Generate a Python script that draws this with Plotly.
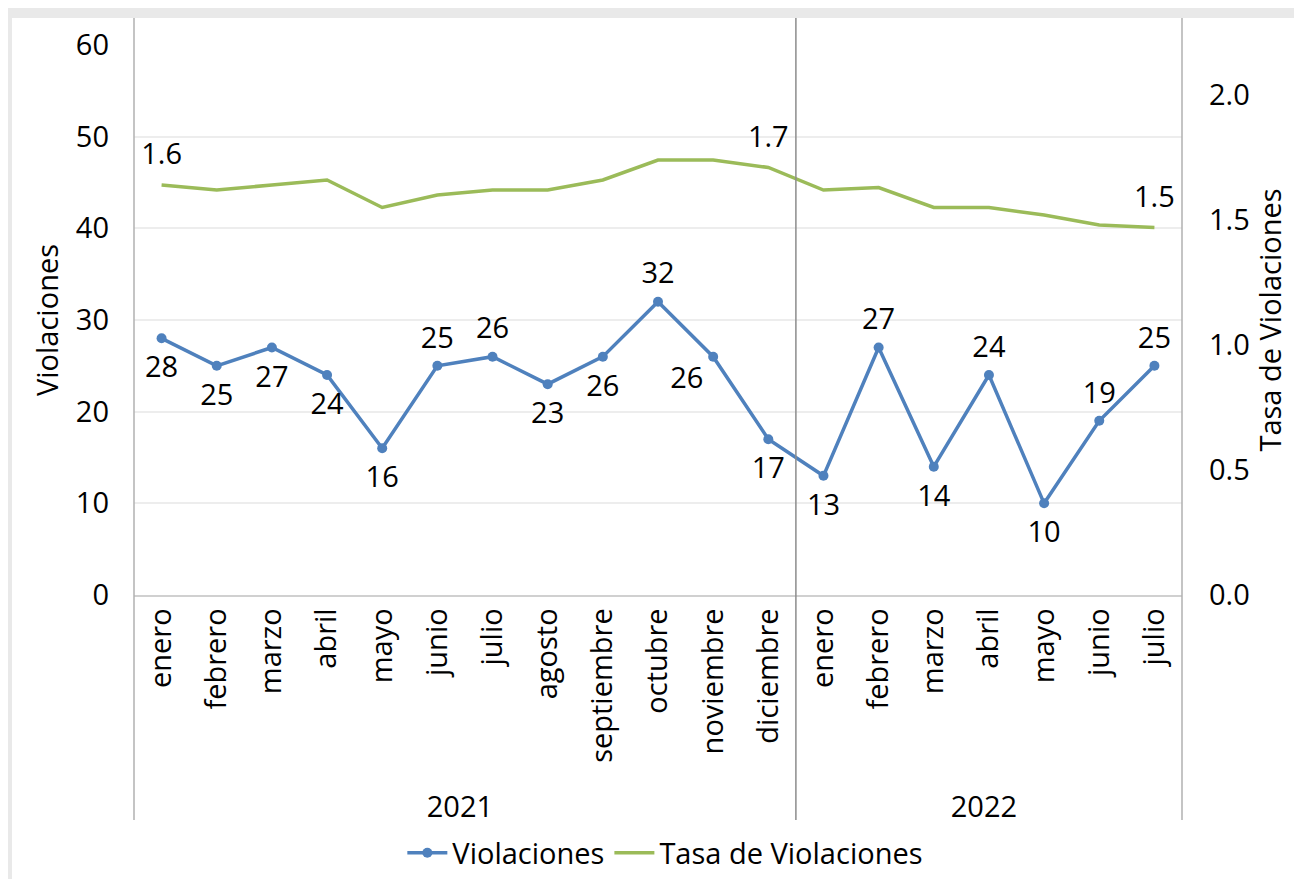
import plotly.graph_objects as go

# Data.
years = ['2021'] * 12 + ['2022'] * 7
months = ['enero', 'febrero', 'marzo', 'abril', 'mayo', 'junio', 'julio', 'agosto',
          'septiembre', 'octubre', 'noviembre', 'diciembre',
          'enero', 'febrero', 'marzo', 'abril', 'mayo', 'junio', 'julio']
violaciones = [28, 25, 27, 24, 16, 25, 26, 23, 26, 32, 26, 17, 13, 27, 14, 24, 10, 19, 25]
tasa = [1.64, 1.62, 1.64, 1.66, 1.55, 1.60, 1.62, 1.62, 1.66, 1.74, 1.74, 1.71,
        1.62, 1.63, 1.55, 1.55, 1.52, 1.48, 1.47]
tasa_labels = ['1.6'] + [''] * 10 + ['1.7'] + [''] * 6 + ['1.5']
viol_pos = ['bottom center', 'bottom center', 'bottom center', 'bottom center', 'bottom center',
            'top center', 'top center', 'bottom center', 'bottom center', 'top center',
            'bottom left', 'bottom center', 'bottom center', 'top center', 'bottom center',
            'top center', 'bottom center', 'top center', 'top center']

blue = '#4f81bd'
green = '#9bbb59'
font_family = 'Open Sans'
fsize = 29
text_font = dict(family=font_family, size=fsize, color='#000000')

x = [years, months]

data = []

# Tasa de Violaciones on the secondary axis.
data.append(
    go.Scatter(
        x=x,
        y=tasa,
        yaxis='y2',
        mode='lines',
        name='Tasa de Violaciones',
        line=dict(color=green, width=3.5),
        hoverinfo='skip',
    )
)

# Tasa labels (invisible markers keep the labels clear of the line).
data.append(
    go.Scatter(
        x=x,
        y=tasa,
        yaxis='y2',
        mode='markers+text',
        showlegend=False,
        marker=dict(size=20, opacity=0),
        text=tasa_labels,
        textposition='top center',
        textfont=text_font,
        cliponaxis=False,
        hoverinfo='skip',
    )
)

# Violaciones on the primary axis.
data.append(
    go.Scatter(
        x=x,
        y=violaciones,
        mode='lines+markers',
        name='Violaciones',
        line=dict(color=blue, width=3.5),
        marker=dict(color=blue, size=10),
    )
)

# Violaciones labels; labels below the line sit a little further away.
label_gap = [26 if p.startswith('bottom') else 16 for p in viol_pos]
label_gap[10] = 14
data.append(
    go.Scatter(
        x=x,
        y=violaciones,
        mode='markers+text',
        showlegend=False,
        marker=dict(size=label_gap, opacity=0),
        text=[str(v) for v in violaciones],
        textposition=viol_pos,
        textfont=text_font,
        cliponaxis=False,
        hoverinfo='skip',
    )
)

def vline(xp, color):
    return dict(type='line', xref='paper', yref='paper', x0=xp, x1=xp, y0=-0.409, y1=1.049,
                line=dict(color=color, width=1.5), layer='above')

shapes = [
    # Gray frame round the top and left of the chart.
    dict(type='rect', xref='paper', yref='paper', x0=-0.125, x1=1.2,
         y0=1.049, y1=1.08, fillcolor='#e9e9e9', line=dict(width=0), layer='below'),
    dict(type='rect', xref='paper', yref='paper', x0=-0.125, x1=-0.1164,
         y0=-0.6, y1=1.08, fillcolor='#e9e9e9', line=dict(width=0), layer='below'),
    vline(0, '#b0b0b0'),
    vline(12 / 19, '#8c8c8c'),
    vline(1, '#b0b0b0'),
]

layout = dict(
    width=1294,
    height=871,
    plot_bgcolor='white',
    paper_bgcolor='white',
    margin=dict(l=126, r=120, t=37, b=284, pad=0),
    font=text_font,
    showlegend=True,
    legend=dict(
        orientation='h',
        x=0.507,
        xanchor='center',
        yref='container',
        y=0.03,
        yanchor='middle',
        traceorder='reversed',
        font=text_font,
        itemwidth=40,
    ),
    xaxis=dict(
        type='multicategory',
        range=[-0.5, len(months) - 0.5],
        tickangle=-90,
        showgrid=False,
        zeroline=False,
        showline=True,
        linecolor='#d0d0d0',
        linewidth=1.5,
        showdividers=False,
        ticks='',
        tickfont=text_font,
        automargin=False,
    ),
    yaxis=dict(
        range=[0, 60],
        dtick=10,
        showgrid=True,
        gridcolor='#ededed',
        gridwidth=1.5,
        zeroline=False,
        showline=False,
        ticks='',
        ticklabelstandoff=24,
        tickfont=text_font,
        title=dict(text='Violaciones', standoff=8, font=text_font),
    ),
    yaxis2=dict(
        range=[0, 2.2],
        dtick=0.5,
        tickformat='.1f',
        overlaying='y',
        side='right',
        showgrid=False,
        zeroline=False,
        showline=False,
        ticks='',
        ticklabelstandoff=26,
        tickfont=text_font,
        title=dict(text='Tasa de Violaciones', standoff=8, font=text_font),
    ),
    shapes=shapes,
)

fig = go.Figure(data=data, layout=layout)
fig.write_html('out.html')
